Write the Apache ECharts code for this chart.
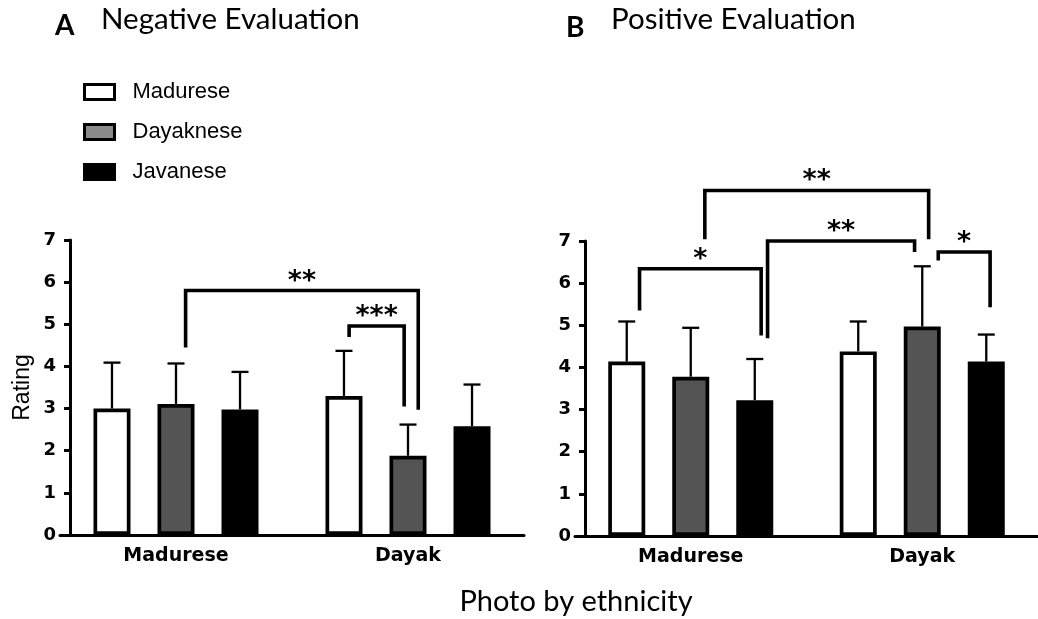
<!DOCTYPE html>
<html>
<head>
<meta charset="utf-8">
<script src="https://cdn.jsdelivr.net/npm/echarts@6/dist/echarts.min.js"></script>
<style>
html,body{margin:0;padding:0;background:#fff;}
#chart{width:1038px;height:619px;}
</style>
</head>
<body>
<div id="chart"></div>
<script>
// ---- data ----
const groups = ['Madurese', 'Dayak'];              // photo by ethnicity
const raters = ['Madurese', 'Dayaknese', 'Javanese'];
const yTickMin = 0, yTickMax = 7, yTickStep = 1;

// A: Negative evaluation (means, and mean + SD for the whisker top)
const negMadurese   = [3.00, 3.30];
const negDayaknese  = [3.11, 1.88];
const negJavanese   = [2.98, 2.58];
const negMaduresePlus  = [4.09, 4.37];
const negDayaknesePlus = [4.07, 2.62];
const negJavanesePlus  = [3.87, 3.57];

// B: Positive evaluation
const posMadurese   = [4.14, 4.38];
const posDayaknese  = [3.78, 4.97];
const posJavanese   = [3.22, 4.14];
const posMaduresePlus  = [5.09, 5.09];
const posDayaknesePlus = [4.94, 6.40];
const posJavanesePlus  = [4.20, 4.78];

// significance brackets: group + bar slot for each leg, leg bottoms, bracket top (rating units)
const negBrackets = [
  {gL:0, sL:0.15, yL:4.45, gR:1, sR:0.16, yR:2.97, top:5.80, label:'**'},
  {gL:1, sL:-0.92, yL:4.70, gR:1, sR:-0.06, yR:3.05, top:4.96, label:'***'}
];
const posBrackets = [
  {gL:0, sL:-0.80, yL:5.35, gR:0, sR:1.10, yR:4.76, top:6.34, label:'*'},
  {gL:0, sL:0.22, yL:7.04, gR:1, sR:0.10, yR:7.04, top:8.20, label:'**'},
  {gL:0, sL:1.20, yL:4.69, gR:1, sR:-0.12, yR:6.74, top:7.00, label:'**'},
  {gL:1, sL:0.25, yL:6.54, gR:1, sR:1.06, yR:5.43, top:6.74, label:'*'}
];

// ---- style ----
const colors = ['#ffffff', '#545454', '#000000'];
const legendColors = ['#ffffff', '#8a8a8a', '#000000'];
const BAR_W = 37, BAR_GAP = 0.73;
const STEP = BAR_W * (1 + BAR_GAP);
const tickFont = 'DejaVu Sans';

const chart = echarts.init(document.getElementById('chart'), null, {renderer:'canvas'});

function barSeries(name, data, gi) {
  return {
    type:'bar', name:name, xAxisIndex:gi, yAxisIndex:gi,
    data:data, barWidth:BAR_W, barGap:(BAR_GAP*100)+'%',
    itemStyle:{color:colors[raters.indexOf(name)], borderColor:'#000', borderWidth:3.7},
    z:2
  };
}
function errSeries(means, plus, slot, gi) {
  return {
    type:'custom', xAxisIndex:gi, yAxisIndex:gi, z:1, silent:true,
    data: means.map((m,i)=>[i, m, plus[i]]),
    encode:{x:0, y:[1,2]},
    renderItem:function(params, api){
      const p0 = api.coord([api.value(0), api.value(1)]);
      const p1 = api.coord([api.value(0), api.value(2)]);
      const x = p0[0] + slot*STEP;
      return {type:'group', children:[
        {type:'line', shape:{x1:x, y1:p0[1], x2:x, y2:p1[1]}, style:{stroke:'#000', lineWidth:2.3}},
        {type:'line', shape:{x1:x-8.5, y1:p1[1], x2:x+8.5, y2:p1[1]}, style:{stroke:'#000', lineWidth:2.3}}
      ]};
    }
  };
}
function bracketSeries(list, gi) {
  return {
    type:'custom', xAxisIndex:gi, yAxisIndex:gi, z:5, silent:true, clip:false,
    data: list.map(b=>[b.gL, b.top]),
    encode:{x:0, y:1},
    renderItem:function(params, api){
      const b = list[params.dataIndex];
      const xL = api.coord([b.gL, 0])[0] + b.sL*STEP;
      const xR = api.coord([b.gR, 0])[0] + b.sR*STEP;
      const yL = api.coord([0, b.yL])[1];
      const yR = api.coord([0, b.yR])[1];
      const yT = api.coord([0, b.top])[1];
      return {type:'group', children:[
        {type:'polyline', shape:{points:[[xL,yL],[xL,yT],[xR,yT],[xR,yR]]},
         style:{stroke:'#000', lineWidth:3.6, fill:null, lineJoin:'miter'}},
        {type:'text', x:(xL+xR)/2, y:yT-9,
         style:{text:b.label, fill:'#000', font:'bold 27px "DejaVu Sans"', align:'center', verticalAlign:'middle'}}
      ]};
    }
  };
}

function xAxisCfg(gi) {
  return {
    type:'category', gridIndex:gi, data:groups,
    axisLine:{lineStyle:{color:'#000', width:3}},
    axisTick:{alignWithLabel:true, length:8, lineStyle:{color:'#000', width:3}},
    axisLabel:{color:'#000', fontFamily:tickFont, fontWeight:'bold', fontSize:19, margin:12}
  };
}
function yAxisCfg(gi, name) {
  return {
    type:'value', gridIndex:gi, min:yTickMin, max:yTickMax, interval:yTickStep, offset:-10,
    name:name, nameLocation:'middle', nameGap:36,
    nameTextStyle:{color:'#000', fontFamily:'Liberation Sans', fontSize:23},
    axisLine:{show:true, lineStyle:{color:'#000', width:3}},
    axisTick:{show:true, length:6, lineStyle:{color:'#000', width:3}},
    axisLabel:{color:'#000', fontFamily:tickFont, fontWeight:'bold', fontSize:18, margin:14},
    splitLine:{show:false}
  };
}

const option = {
  animation:false,
  backgroundColor:'#fff',
  title:[
    {text:'A', left:55, top:12, padding:0, textStyle:{fontFamily:'Lato', fontWeight:'bold', fontSize:28, color:'#000'}},
    {text:'Negative Evaluation', left:101, top:4, padding:0, textStyle:{fontFamily:'Lato', fontWeight:'normal', fontSize:29.5, color:'#000'}},
    {text:'B', left:566, top:14, padding:0, textStyle:{fontFamily:'Lato', fontWeight:'bold', fontSize:28, color:'#000'}},
    {text:'Positive Evaluation', left:611, top:4, padding:0, textStyle:{fontFamily:'Lato', fontWeight:'normal', fontSize:29.5, color:'#000'}},
    {text:'Photo by ethnicity', left:576, textAlign:'center', top:587, padding:0, textStyle:{fontFamily:'Lato', fontWeight:'normal', fontSize:29, color:'#000'}}
  ],
  legend:{
    orient:'vertical', left:83, top:81, padding:0, itemWidth:30, itemHeight:15, itemGap:18,
    selectedMode:false,
    textStyle:{fontFamily:'Liberation Sans', fontSize:22, color:'#000', lineHeight:22, padding:[0,0,0,13]},
    data:raters.map((r,i)=>({name:r, icon:'rect', itemStyle:{color:legendColors[i], borderColor:'#000', borderWidth:3}}))
  },
  grid:[
    {left:60, width:464, top:240, height:295},
    {left:575, width:463, top:241, height:295}
  ],
  xAxis:[xAxisCfg(0), xAxisCfg(1)],
  yAxis:[yAxisCfg(0,'Rating'), yAxisCfg(1,'')],
  series:[
    barSeries('Madurese', negMadurese, 0),
    barSeries('Dayaknese', negDayaknese, 0),
    barSeries('Javanese', negJavanese, 0),
    errSeries(negMadurese, negMaduresePlus, -1, 0),
    errSeries(negDayaknese, negDayaknesePlus, 0, 0),
    errSeries(negJavanese, negJavanesePlus, 1, 0),
    bracketSeries(negBrackets, 0),
    barSeries('Madurese', posMadurese, 1),
    barSeries('Dayaknese', posDayaknese, 1),
    barSeries('Javanese', posJavanese, 1),
    errSeries(posMadurese, posMaduresePlus, -1, 1),
    errSeries(posDayaknese, posDayaknesePlus, 0, 1),
    errSeries(posJavanese, posJavanesePlus, 1, 1),
    bracketSeries(posBrackets, 1)
  ]
};
chart.setOption(option);
</script>
</body>
</html>
